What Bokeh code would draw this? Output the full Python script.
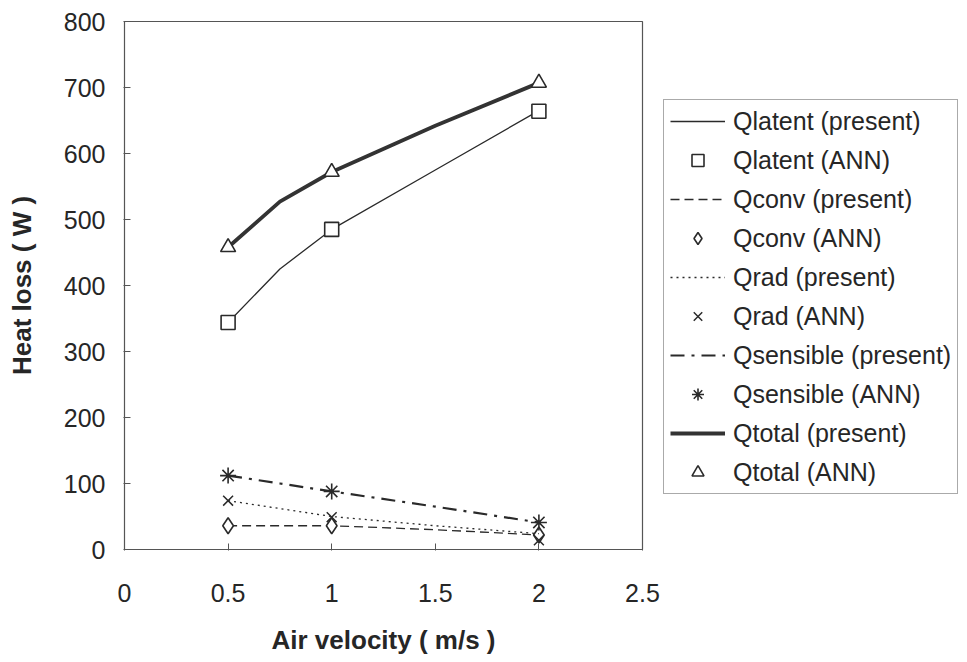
from bokeh.plotting import figure
from bokeh.models import Legend, LegendItem, Range1d, FixedTicker
from bokeh.embed import file_html
from bokeh.resources import INLINE

# ---- data ----
v_ann = [0.5, 1.0, 2.0]
v_present = [0.5, 0.75, 1.0, 1.5, 2.0]

qlatent_present = [344, 425, 485, 575, 665]
qlatent_ann = [344, 485, 664]
qconv_present = [36, 36, 36, 30, 22]
qconv_ann = [36, 36, 22]
qrad_present = [74, 62, 50, 36, 24]
qrad_ann = [74, 49, 14]
qsens_present = [112, 100, 88, 65, 41]
qsens_ann = [112, 88, 41]
qtotal_present = [458, 527, 572, 642, 707]
qtotal_ann = [458, 572, 707]

x_ticks = [0, 0.5, 1, 1.5, 2, 2.5]
y_ticks = [0, 100, 200, 300, 400, 500, 600, 700, 800]

FONT = "Liberation Sans"
INK = "#262626"

p = figure(width=951, height=652, frame_width=518, frame_height=528,
           min_border_left=124, min_border_top=21, min_border_bottom=103,
           min_border_right=309,
           x_range=Range1d(0, 2.5), y_range=Range1d(0, 800),
           output_backend="svg", toolbar_location=None)

p.xgrid.visible = False
p.ygrid.visible = False
p.outline_line_color = "#555555"
p.outline_line_width = 1.2
p.background_fill_color = "white"
p.border_fill_color = "white"

for ax in (p.xaxis[0], p.yaxis[0]):
    ax.axis_line_color = "#555555"
    ax.major_tick_line_color = "#555555"
    ax.major_tick_in = 6
    ax.major_tick_out = 1
    ax.minor_tick_line_color = None
    ax.major_label_text_font = FONT
    ax.major_label_text_font_size = "25px"
    ax.major_label_text_color = INK
    ax.axis_label_text_font = FONT
    ax.axis_label_text_font_style = "bold"
    ax.axis_label_text_font_size = "26px"
    ax.axis_label_text_color = INK

p.xaxis.ticker = FixedTicker(ticks=x_ticks)
p.yaxis.ticker = FixedTicker(ticks=y_ticks)
p.xaxis.major_label_standoff = 33
p.yaxis.major_label_standoff = 18
p.xaxis.axis_label = "Air velocity ( m/s )"
p.yaxis.axis_label = "Heat loss ( W )"
p.xaxis.axis_label_standoff = 20
p.yaxis.axis_label_standoff = 24

LC = "#2a2a2a"
r_lat_p = p.line(v_present, qlatent_present, line_color=LC, line_width=1.3)
r_lat_a = p.scatter(v_ann, qlatent_ann, marker="square", size=14, line_color=LC,
                    line_width=1.6, fill_color="white")
r_conv_p = p.line(v_present, qconv_present, line_color=LC, line_width=1.3, line_dash="9 5")
r_conv_a = p.scatter(v_ann, qconv_ann, marker="diamond", size=16,
                     line_color=LC, line_width=1.6, fill_color="white")
r_rad_p = p.line(v_present, qrad_present, line_color=LC, line_width=1.3, line_dash="2 4")
r_rad_a = p.scatter(v_ann, qrad_ann, marker="x", size=14, line_color=LC, line_width=1.5)
r_sens_p = p.line(v_present, qsens_present, line_color=LC, line_width=2.2,
                  line_dash="14 7 3 7")
r_sens_a = p.scatter(v_ann, qsens_ann, marker="asterisk", size=16, line_color=LC,
                     line_width=1.6)
r_tot_p = p.line(v_present, qtotal_present, line_color="#333333", line_width=3.8)
r_tot_a = p.scatter(v_ann, qtotal_ann, marker="triangle", size=15, line_color=LC,
                    line_width=1.6, fill_color="white")

items = [
    LegendItem(label="Qlatent (present)", renderers=[r_lat_p]),
    LegendItem(label="Qlatent (ANN)", renderers=[r_lat_a]),
    LegendItem(label="Qconv (present)", renderers=[r_conv_p]),
    LegendItem(label="Qconv (ANN)", renderers=[r_conv_a]),
    LegendItem(label="Qrad (present)", renderers=[r_rad_p]),
    LegendItem(label="Qrad (ANN)", renderers=[r_rad_a]),
    LegendItem(label="Qsensible (present)", renderers=[r_sens_p]),
    LegendItem(label="Qsensible (ANN)", renderers=[r_sens_a]),
    LegendItem(label="Qtotal (present)", renderers=[r_tot_p]),
    LegendItem(label="Qtotal (ANN)", renderers=[r_tot_a]),
]
legend = Legend(items=items, location=(21, 55), margin=0, padding=6,
                glyph_width=55, glyph_height=30, label_height=30, spacing=9,
                label_standoff=8,
                label_text_font=FONT, label_text_font_size="25px",
                label_text_color=INK,
                border_line_color="#555555", border_line_width=1.2,
                background_fill_color="white", background_fill_alpha=1.0)
p.add_layout(legend, "right")

open("out.html", "w").write(file_html(p, INLINE))
